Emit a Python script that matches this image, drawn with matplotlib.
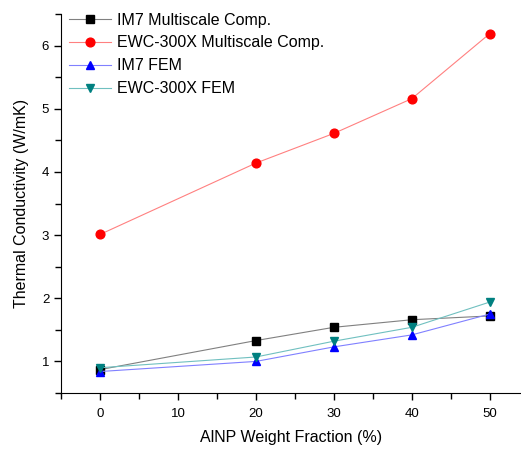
import matplotlib
matplotlib.use("Agg")
import matplotlib.pyplot as plt
from matplotlib.ticker import MultipleLocator

plt.rcParams['font.family'] = ['Liberation Sans', 'DejaVu Sans']

# AlNP weight fraction (%)
fraction = [0, 20, 30, 40, 50]

# Thermal conductivity (W/mK)
im7_multiscale = [0.87, 1.33, 1.54, 1.66, 1.72]
ewc_multiscale = [3.01, 4.14, 4.61, 5.16, 6.19]
im7_fem = [0.84, 1.00, 1.23, 1.42, 1.75]
ewc_fem = [0.90, 1.07, 1.32, 1.54, 1.94]

series = [
    ("IM7 Multiscale Comp.", im7_multiscale, "s", 5.3, "black", "#808080"),
    ("EWC-300X Multiscale Comp.", ewc_multiscale, "o", 6.3, "red", "#ff8080"),
    ("IM7 FEM", im7_fem, "^", 6.3, "blue", "#8080ff"),
    ("EWC-300X FEM", ewc_fem, "v", 6.3, "#008080", "#70c0c0"),
]

fig = plt.figure(figsize=(5.21, 4.49), dpi=100)
ax = fig.add_axes([61 / 521, 56 / 449, 460 / 521, 379 / 449])

for label, vals, marker, msize, mcolor, lcolor in series:
    ax.plot(fraction, vals, color=lcolor, linewidth=0.8, marker=marker,
            markersize=msize, markerfacecolor=mcolor, markeredgecolor=mcolor,
            label=label)

ax.set_xlim(-5, 54)
ax.set_ylim(0.5, 6.5)
ax.xaxis.set_major_locator(MultipleLocator(10))
ax.xaxis.set_minor_locator(MultipleLocator(5))
ax.yaxis.set_major_locator(MultipleLocator(1))
ax.yaxis.set_minor_locator(MultipleLocator(0.5))
ax.tick_params(which="both", direction="out", labelsize=9.5, width=1)
ax.tick_params(which="major", length=5)
ax.tick_params(which="minor", length=4)
ax.tick_params(axis="x", pad=6)
ax.spines["top"].set_visible(False)
ax.spines["right"].set_visible(False)

ax.set_xlabel("AlNP Weight Fraction (%)", fontsize=11.5, labelpad=7)
ax.set_ylabel("Thermal Conductivity (W/mK)", fontsize=11.5, labelpad=9)

ax.legend(loc="upper left", frameon=False, fontsize=11.5, handlelength=2.6,
          borderaxespad=0.1, labelspacing=0.5, handletextpad=0.4,
          bbox_to_anchor=(0.0, 1.025))

fig.savefig("out.png", dpi=100)
